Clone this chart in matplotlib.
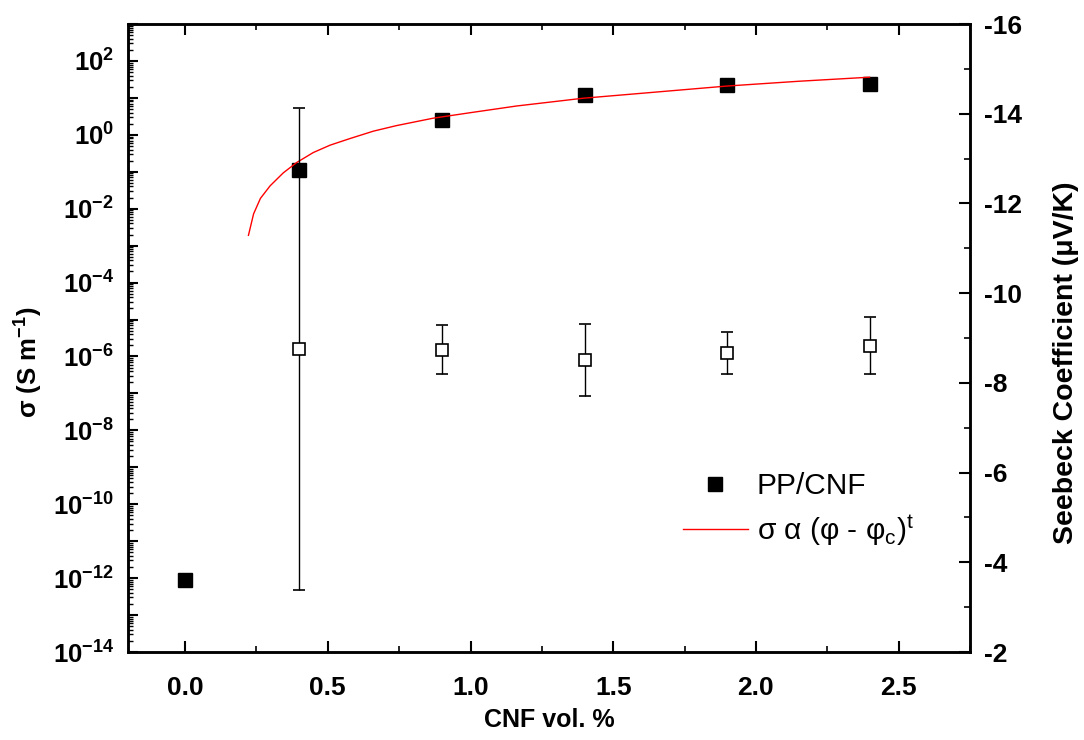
import numpy as np
import matplotlib
matplotlib.use("Agg")
import matplotlib.pyplot as plt
from matplotlib.ticker import LogLocator, FixedLocator, MultipleLocator, FuncFormatter, NullFormatter

plt.rcParams['font.family'] = ['Liberation Sans', 'DejaVu Sans']
plt.rcParams['mathtext.fontset'] = 'custom'
plt.rcParams['mathtext.rm'] = 'Liberation Sans'
plt.rcParams['mathtext.it'] = 'Liberation Sans:italic'
plt.rcParams['mathtext.bf'] = 'Liberation Sans:bold'

# ---- data ----
cnf_vol = [0.0, 0.4, 0.9, 1.4, 1.9, 2.4]
sigma = [9e-13, 0.112, 2.5, 12.0, 22.0, 23.4]

fit_x = [0.222, 0.240, 0.264, 0.298, 0.344, 0.391, 0.449, 0.508, 0.578, 0.660,
         0.741, 0.869, 1.000, 1.161, 1.394, 1.593, 1.898, 2.150, 2.398]
fit_log_sigma = [-2.72, -2.14, -1.72, -1.38, -1.03, -0.75, -0.48, -0.28, -0.10, 0.10,
                 0.25, 0.45, 0.60, 0.78, 0.99, 1.12, 1.32, 1.45, 1.56]

seebeck_x = [0.4, 0.9, 1.4, 1.9, 2.4]
seebeck = [-8.76, -8.74, -8.51, -8.67, -8.83]
seebeck_err = [5.37, 0.54, 0.81, 0.47, 0.64]

xticks = [0.0, 0.5, 1.0, 1.5, 2.0, 2.5]
right_ticks = [-16, -14, -12, -10, -8, -6, -4, -2]

fig = plt.figure(figsize=(10.84, 7.40), dpi=100)
ax = fig.add_axes([128/1084, 1-652/740, (970-128)/1084, (652-24)/740])

ax.set_yscale('log')
ax.set_xlim(-0.2, 2.75)
ax.set_ylim(1e-14, 1e3)

ax.plot(fit_x, 10**np.array(fit_log_sigma), color='red', lw=1.0, zorder=4,
        label=r'σ α (φ - φ$_{\mathrm{c}}$)$^{\mathrm{t}}$')
ax.plot(cnf_vol, sigma, 's', color='black', ms=10, ls='none', zorder=3, label='PP/CNF')

ax2 = ax.twinx()
ax2.set_ylim(-2, -16)
ax2.errorbar(seebeck_x, seebeck, yerr=seebeck_err, fmt='s', ms=9, mfc='white', mec='black',
             mew=1.2, ecolor='black', elinewidth=1.0, capsize=4.5, capthick=1.0, color='black')

# ticks
ax.yaxis.set_major_locator(LogLocator(base=10, subs=(1.0,), numticks=40))
ax.yaxis.set_minor_locator(LogLocator(base=10, subs=np.arange(2, 10), numticks=40))
def logfmt(v, pos):
    e = int(round(np.log10(v)))
    if e % 2 != 0:
        return ''
    return r'$\mathbf{10^{%d}}$' % e
ax.yaxis.set_major_formatter(FuncFormatter(logfmt))
ax.yaxis.set_minor_formatter(NullFormatter())

ax.xaxis.set_major_locator(FixedLocator(xticks))
ax.xaxis.set_minor_locator(MultipleLocator(0.25))
ax.set_xticklabels(['%.1f' % t for t in xticks])

ax2.yaxis.set_major_locator(FixedLocator(right_ticks))
ax2.yaxis.set_minor_locator(MultipleLocator(1))
ax2.set_yticklabels(['%d' % t for t in right_ticks])

ax.tick_params(axis='y', which='major', direction='in', length=7, width=1.5, pad=10, labelsize=18.5, left=True, right=False)
ax.tick_params(axis='y', which='minor', direction='in', length=3.5, width=1.0, left=True, right=False)
ax.tick_params(axis='x', which='major', direction='in', length=8, width=1.5, pad=17, labelsize=19, top=True)
ax.tick_params(axis='x', which='minor', direction='in', length=4, width=1.2, top=True)
ax2.tick_params(axis='y', which='major', direction='in', length=8, width=1.5, pad=10, labelsize=19)
ax2.tick_params(axis='y', which='minor', direction='in', length=4.5, width=1.2)

for lab in ax.get_xticklabels() + ax2.get_yticklabels():
    lab.set_fontweight('bold')

for a in (ax, ax2):
    for s in a.spines.values():
        s.set_linewidth(1.8)

ax.set_xlabel('CNF vol. %', fontsize=18, fontweight='bold', labelpad=6)
ax.set_ylabel(r'σ (S m$^{\mathbf{-1}}$)', fontsize=18.5, fontweight='bold')
ax.yaxis.set_label_coords(-0.099, 0.462)
ax2.set_ylabel('Seebeck Coefficient (μV/K)', fontsize=20.5, fontweight='bold')
ax2.yaxis.set_label_coords(1.0986, 0.46)

h, l = ax.get_legend_handles_labels()
leg = fig.legend([h[1], h[0]], [l[1], l[0]], loc='center left',
                 bbox_to_anchor=(683/1084, 1-510/740), frameon=False, fontsize=21.5,
                 handlelength=2.17, handletextpad=0.3, borderpad=0, borderaxespad=0,
                 labelspacing=0.4)

fig.savefig('out.png', dpi=100)
